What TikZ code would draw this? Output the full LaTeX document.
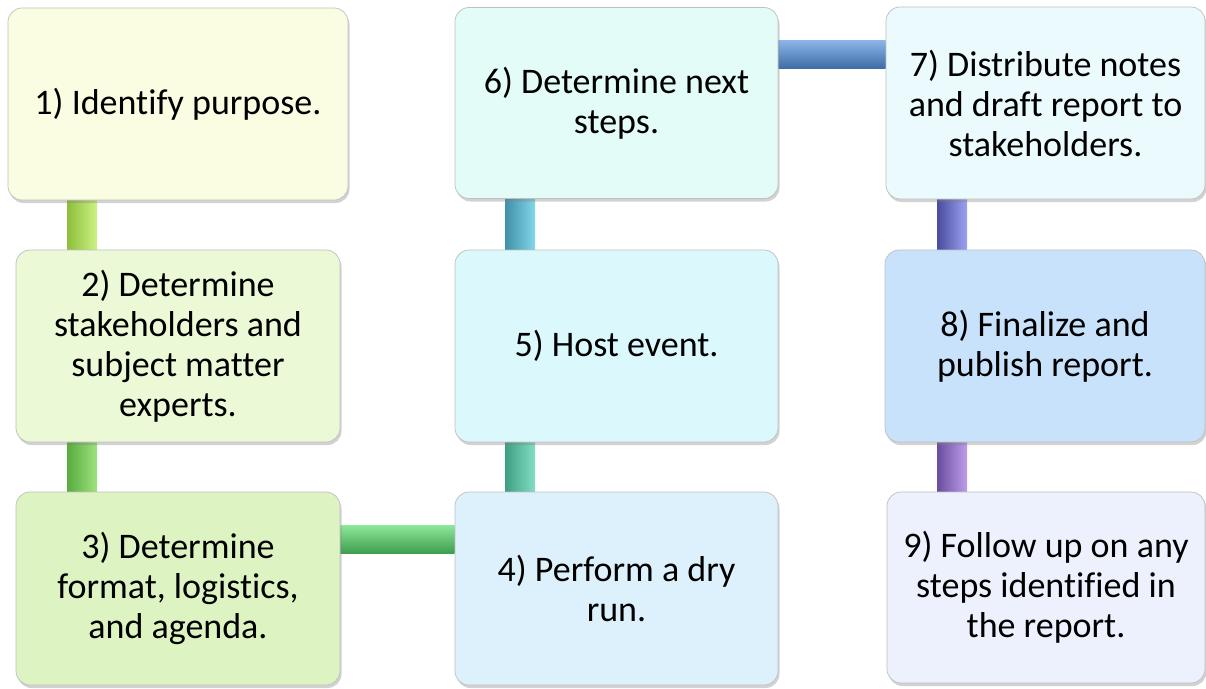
\documentclass[tikz,border=0pt]{standalone}
\usepackage{fontspec}
\setmainfont{Carlito}[RawFeature={-liga;-clig;-calt;-dlig}]
\usetikzlibrary{shadows,backgrounds,calc}
\definecolor{f1}{HTML}{FBFDE3}
\definecolor{f2}{HTML}{EBF9D6}
\definecolor{f3}{HTML}{DDF4C2}
\definecolor{f4}{HTML}{DDF1FC}
\definecolor{f5}{HTML}{DBF9FD}
\definecolor{f6}{HTML}{E3FCF8}
\definecolor{f7}{HTML}{EAFAFD}
\definecolor{f8}{HTML}{C9E2FB}
\definecolor{f9}{HTML}{EDF1FD}
\definecolor{c1d}{HTML}{8DBE3C}\definecolor{c1l}{HTML}{CDF283}
\definecolor{c2d}{HTML}{58AC3E}\definecolor{c2l}{HTML}{9FE27E}
\definecolor{c3d}{HTML}{3E9E50}\definecolor{c3l}{HTML}{8EE89A}
\definecolor{c4d}{HTML}{3F9F82}\definecolor{c4l}{HTML}{82DEC4}
\definecolor{c5d}{HTML}{3F90A8}\definecolor{c5l}{HTML}{84D6EA}
\definecolor{c6d}{HTML}{3E6EA6}\definecolor{c6l}{HTML}{8CB6EA}
\definecolor{c7d}{HTML}{4A4C9E}\definecolor{c7l}{HTML}{9CA2F2}
\definecolor{c8d}{HTML}{6A4C9E}\definecolor{c8l}{HTML}{BC9EEA}
\begin{document}
\begin{tikzpicture}[x=1pt,y=-1pt,
  box/.style={rounded corners=14pt, draw=black!25, line width=0.7pt, align=center,
    font=\fontsize{36}{40}\selectfont, inner sep=0pt,
    drop shadow={opacity=0.35,shadow xshift=1.5pt,shadow yshift=-3pt}},
  vconn/.style 2 args={left color=#1, right color=#2},
  hconn/.style 2 args={top color=#2, bottom color=#1}]
\useasboundingbox (0,0) rectangle (1206,688);
\node[box, fill=f1, minimum width=340pt, minimum height=192pt] (b1) at (178,104) {1) Identify purpose.};
\node[box, fill=f2, minimum width=324pt, minimum height=192pt] (b2) at (178,346) {2) Determine\\stakeholders and\\subject matter\\experts.};
\node[box, fill=f3, minimum width=324pt, minimum height=193pt] (b3) at (178,588.5) {3) Determine\\format, logistics,\\and agenda.};
\node[box, fill=f4, minimum width=323pt, minimum height=193pt] (b4) at (616.5,588.5) {4) Perform a dry\\run.};
\node[box, fill=f5, minimum width=323pt, minimum height=192pt] (b5) at (616.5,346) {5) Host event.};
\node[box, fill=f6, minimum width=323pt, minimum height=191pt] (b6) at (616.5,103) {6) Determine next\\steps.};
\node[box, fill=f7, minimum width=319pt, minimum height=192pt] (b7) at (1045.5,103) {7) Distribute notes\\and draft report to\\stakeholders.};
\node[box, fill=f8, minimum width=320pt, minimum height=192pt] (b8) at (1045,346) {8) Finalize and\\publish report.};
\node[box, fill=f9, minimum width=318pt, minimum height=191pt] (b9) at (1046,587.5) {9) Follow up on any\\steps identified in\\the report.};
\coordinate (v1l) at (67,0); \coordinate (v1r) at (97,0);
\coordinate (v2l) at (505,0); \coordinate (v2r) at (535,0);
\coordinate (v3l) at (937,0); \coordinate (v3r) at (967,0);
\coordinate (h1t) at (0,525); \coordinate (h1b) at (0,553);
\coordinate (h2t) at (0,40); \coordinate (h2b) at (0,68);
\begin{pgfonlayer}{background}
\fill[white] (0,0) rectangle (1206,688);
\shade[vconn={c1d}{c1l}] (b1.south -| v1l) rectangle (b2.north -| v1r);
\shade[vconn={c2d}{c2l}] (b2.south -| v1l) rectangle (b3.north -| v1r);
\shade[hconn={c3d}{c3l}] (b3.east |- h1t) rectangle (b4.west |- h1b);
\shade[vconn={c4d}{c4l}] (b4.north -| v2l) rectangle (b5.south -| v2r);
\shade[vconn={c5d}{c5l}] (b5.north -| v2l) rectangle (b6.south -| v2r);
\shade[hconn={c6d}{c6l}] (b6.east |- h2t) rectangle (b7.west |- h2b);
\shade[vconn={c7d}{c7l}] (b7.south -| v3l) rectangle (b8.north -| v3r);
\shade[vconn={c8d}{c8l}] (b8.south -| v3l) rectangle (b9.north -| v3r);
\end{pgfonlayer}
\end{tikzpicture}
\end{document}
